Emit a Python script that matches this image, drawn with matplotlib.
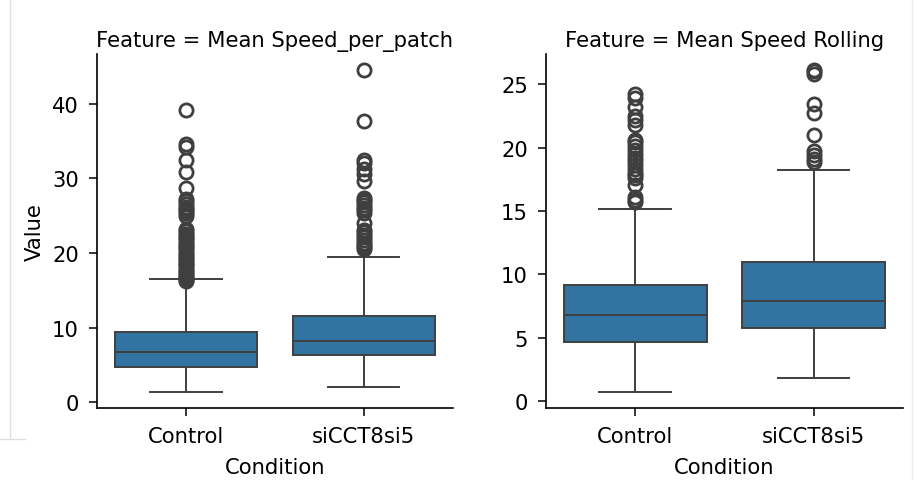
import matplotlib
matplotlib.use("Agg")
import matplotlib.pyplot as plt
from matplotlib.lines import Line2D

# panel titles and categories
features = ["Mean Speed_per_patch", "Mean Speed Rolling"]
conditions = ["Control", "siCCT8si5"]

# box statistics: [Control, siCCT8si5]
speed_patch_q1 = [4.7, 6.4]
speed_patch_med = [6.7, 8.2]
speed_patch_q3 = [9.4, 11.6]
speed_patch_lo = [1.4, 2.0]
speed_patch_hi = [16.5, 19.5]
speed_patch_fliers_ctrl = [16.2, 16.4, 16.6, 16.8, 17.0, 17.3, 17.6, 17.9, 18.2, 18.5,
                           18.7, 19.0, 19.3, 19.6, 19.9, 20.2, 20.5, 20.8, 21.1, 21.4,
                           21.7, 22.0, 22.3, 22.6, 22.9, 23.2, 25.0, 25.3, 25.6, 25.9,
                           26.2, 26.5, 26.9, 27.3, 28.7, 30.8, 32.5, 34.2, 34.6, 39.2]
speed_patch_fliers_si = [20.5, 20.8, 21.1, 21.4, 21.7, 22.1, 22.4, 22.8, 23.1, 24.0,
                         25.3, 25.7, 26.0, 26.4, 26.8, 27.1, 27.4, 29.6, 30.6, 31.2,
                         32.0, 32.5, 37.7, 44.5]

speed_roll_q1 = [4.7, 5.8]
speed_roll_med = [6.8, 7.9]
speed_roll_q3 = [9.2, 11.0]
speed_roll_lo = [0.75, 1.85]
speed_roll_hi = [15.15, 18.2]
speed_roll_fliers_ctrl = [15.7, 15.9, 16.1, 17.05, 17.6, 17.8, 18.0, 18.3, 18.6, 18.9,
                          19.2, 19.5, 19.8, 20.1, 20.4, 20.6, 21.8, 22.2, 22.5, 23.2,
                          23.9, 24.2]
speed_roll_fliers_si = [18.85, 19.1, 19.4, 19.7, 20.95, 22.7, 23.45, 25.8, 26.0, 26.1]

box_color = "#3274a1"
line_color = "#3f3f3f"


def make_stats(q1, med, q3, lo, hi, fliers):
    out = []
    for i in range(len(conditions)):
        out.append({"q1": q1[i], "med": med[i], "q3": q3[i],
                    "whislo": lo[i], "whishi": hi[i], "fliers": fliers[i],
                    "label": conditions[i]})
    return out


panel_stats = [
    make_stats(speed_patch_q1, speed_patch_med, speed_patch_q3, speed_patch_lo,
               speed_patch_hi, [speed_patch_fliers_ctrl, speed_patch_fliers_si]),
    make_stats(speed_roll_q1, speed_roll_med, speed_roll_q3, speed_roll_lo,
               speed_roll_hi, [speed_roll_fliers_ctrl, speed_roll_fliers_si]),
]

plt.rcParams["font.family"] = "DejaVu Sans"
plt.rcParams["font.size"] = 15.2

fig = plt.figure(figsize=(9.17, 4.81), dpi=100)
axes = [fig.add_axes([0.1058, 0.1497, 0.388, 0.736]),
        fig.add_axes([0.5954, 0.1497, 0.389, 0.736])]

for ax, feat, stats in zip(axes, features, panel_stats):
    ax.bxp(stats, positions=range(len(conditions)), widths=0.8, capwidths=0.4,
           patch_artist=True,
           boxprops=dict(facecolor=box_color, edgecolor=line_color, linewidth=1.4),
           medianprops=dict(color=line_color, linewidth=1.4),
           whiskerprops=dict(color=line_color, linewidth=1.4),
           capprops=dict(color=line_color, linewidth=1.4),
           flierprops=dict(marker="o", markerfacecolor="none",
                           markeredgecolor=line_color, markersize=9.5,
                           markeredgewidth=2.0))
    ax.set_xlim(-0.5, 1.5)
    ax.set_xticks(range(len(conditions)))
    ax.set_xticklabels(conditions)
    ax.set_title(f"Feature = {feat}", fontsize=15.2)
    ax.set_xlabel("Condition", labelpad=8)
    ax.tick_params(length=6, width=1.1, pad=7)
    for side in ["left", "bottom"]:
        ax.spines[side].set_linewidth(1.2)
    ax.spines["top"].set_visible(False)
    ax.spines["right"].set_visible(False)

axes[0].set_ylabel("Value", labelpad=5.5)
axes[0].set_yticks([0, 10, 20, 30, 40])
axes[1].set_yticks([0, 5, 10, 15, 20, 25])

# faint screenshot frame lines
fig.add_artist(Line2D([10 / 917, 10 / 917], [1, 41 / 481], color="#e0e0e0", lw=1))
fig.add_artist(Line2D([0, 25 / 917], [41 / 481, 41 / 481], color="#e0e0e0", lw=1))
fig.add_artist(Line2D([912 / 917, 912 / 917], [1, 0.0], color="#eeeeee", lw=1))

fig.savefig("out.png", dpi=100)
